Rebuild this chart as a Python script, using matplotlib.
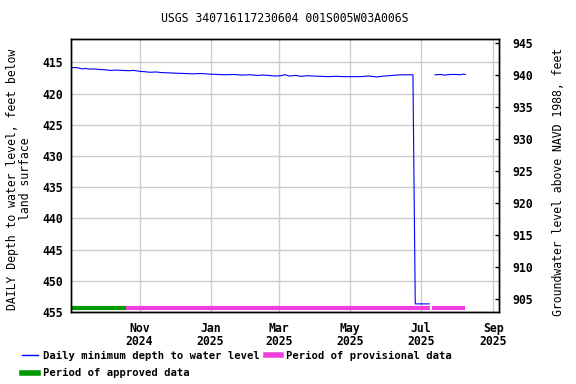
import matplotlib
matplotlib.use("Agg")
import matplotlib.pyplot as plt
import matplotlib.dates as mdates
import matplotlib.transforms as mtransforms
from matplotlib.lines import Line2D
import numpy as np

plt.rcParams['font.family'] = ['DejaVu Sans Mono']
plt.rcParams['font.weight'] = 'bold'

title = "USGS 340716117230604 001S005W03A006S"

# daily minimum depth to water, feet below land surface
dates_a = ["2024-09-03", "2024-09-08", "2024-09-10", "2024-09-13", "2024-09-16",
           "2024-09-19", "2024-09-22", "2024-09-27", "2024-10-02", "2024-10-07",
           "2024-10-12", "2024-10-17", "2024-10-22", "2024-10-27", "2024-11-01",
           "2024-11-05", "2024-11-10", "2024-11-15", "2024-11-20", "2024-11-27",
           "2024-12-03", "2024-12-10", "2024-12-17", "2024-12-24", "2024-12-31",
           "2025-01-07", "2025-01-14", "2025-01-21", "2025-01-28", "2025-02-04",
           "2025-02-10", "2025-02-15", "2025-02-20", "2025-02-25", "2025-03-02",
           "2025-03-06", "2025-03-10", "2025-03-15", "2025-03-20", "2025-03-25",
           "2025-03-30", "2025-04-05", "2025-04-12", "2025-04-19", "2025-04-26",
           "2025-05-03", "2025-05-10", "2025-05-17", "2025-05-24", "2025-05-28",
           "2025-06-03", "2025-06-10", "2025-06-15", "2025-06-20", "2025-06-24",
           "2025-06-25", "2025-06-26", "2025-07-08"]
depth_a = [415.85, 415.85, 415.95, 416.05, 416.0,
           416.1, 416.05, 416.15, 416.2, 416.3,
           416.25, 416.3, 416.35, 416.3, 416.45,
           416.5, 416.6, 416.55, 416.65, 416.7,
           416.75, 416.8, 416.85, 416.8, 416.9,
           416.95, 417.0, 416.95, 417.05, 417.0,
           417.1, 417.05, 417.1, 417.2, 417.15,
           417.0, 417.2, 417.1, 417.25, 417.15,
           417.2, 417.25, 417.3, 417.25, 417.3,
           417.3, 417.3, 417.2, 417.35, 417.25,
           417.15, 417.05, 417.0, 417.0, 417.0,
           435.5, 453.7, 453.7]

dates_b = ["2025-07-13", "2025-07-18", "2025-07-21", "2025-07-26", "2025-07-30",
           "2025-08-04", "2025-08-06", "2025-08-08"]
depth_b = [417.0, 416.95, 417.05, 416.95, 416.95, 417.0, 416.9, 416.95]

approved = ("2024-09-03", "2024-10-20")
provisional = [("2024-10-20", "2025-07-09"), ("2025-07-10", "2025-08-08")]

xticks = ["2024-11-01", "2025-01-01", "2025-03-01", "2025-05-01", "2025-07-01", "2025-09-01"]
xticklabels = ["Nov\n2024", "Jan\n2025", "Mar\n2025", "May\n2025", "Jul\n2025", "Sep\n2025"]
left_ticks = [415, 420, 425, 430, 435, 440, 445, 450, 455]
right_ticks = [905, 910, 915, 920, 925, 930, 935, 940, 945]

def d(s):
    return mdates.date2num(np.datetime64(s))

fig = plt.figure(figsize=(5.76, 3.84), dpi=100)
ax = fig.add_axes([71/576, 1-312/384, 428/576, 273/384])

blue = "#0000ff"
pink = "#f040dc"
green = "#009900"

ax.plot([d(s) for s in dates_a], depth_a, color=blue, lw=0.8)
ax.plot([d(s) for s in dates_b], depth_b, color=blue, lw=0.8)

trans = mtransforms.blended_transform_factory(ax.transData, ax.transAxes)
bar_y = 0.014
ax.plot([d(approved[0]), d(approved[1])], [bar_y, bar_y], color=green, lw=3,
        transform=trans, solid_capstyle='butt')
for s, e in provisional:
    ax.plot([d(s), d(e)], [bar_y, bar_y], color=pink, lw=3,
            transform=trans, solid_capstyle='butt')

ax.set_xlim(d("2024-09-03"), d("2025-09-06"))
ax.set_ylim(455.0, 411.27)
ax.set_xticks([d(s) for s in xticks])
ax.set_xticklabels(xticklabels, linespacing=1.05)
ax.set_yticks(left_ticks)
ax.grid(True, color="#cccccc", lw=1.0)
ax.set_axisbelow(True)
ax.tick_params(axis='x', length=0, pad=7, labelsize=8.3)
ax.tick_params(axis='y', length=0, pad=5.5, labelsize=8.3)
for sp in ax.spines.values():
    sp.set_linewidth(1.0)

ax.set_ylabel("DAILY Depth to water level, feet below\nland surface", fontsize=8.3,
              linespacing=0.95, labelpad=8)
ax.yaxis.label.set_y(0.487)
ax.set_title(title, fontsize=8.3, pad=12)

ax2 = ax.twinx()
ax2.set_ylim(903.0, 945.7)
ax2.set_yticks(right_ticks)
ax2.tick_params(axis='y', direction='in', length=3, width=1, pad=9.4, labelsize=8.3)
for sp in ax2.spines.values():
    sp.set_linewidth(1.0)
ax2.set_ylabel("Groundwater level above NAVD 1988, feet", fontsize=8.3, labelpad=14)
ax2.yaxis.label.set_y(0.476)

handles = [Line2D([], [], color=blue, lw=1),
           Line2D([], [], color=green, lw=4),
           Line2D([], [], color=pink, lw=4)]
labels = ["Daily minimum depth to water level", "Period of approved data",
          "Period of provisional data"]
fig.legend(handles, labels, loc='upper left', bbox_to_anchor=(22/576, 1-351/384),
           ncol=2, frameon=False, fontsize=7.6, borderpad=0, borderaxespad=0,
           handlelength=1.5, handletextpad=0.45, columnspacing=0.6, labelspacing=0.7)

fig.savefig("out.png", dpi=100)
